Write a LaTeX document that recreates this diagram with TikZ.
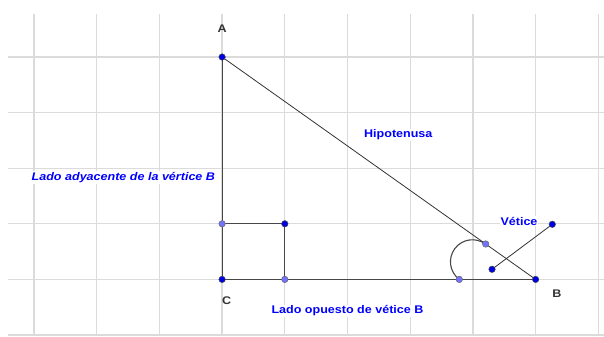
\documentclass[tikz,border=0pt]{standalone}
\usepackage{fontspec}
\setsansfont{Liberation Sans}[FakeStretch=1.13]

\begin{document}
\begin{tikzpicture}[
  x=62.7pt, y=55.6pt,
  font=\sffamily\bfseries\fontsize{11.1}{13}\selectfont,
  gridline/.style={gray!28, line width=1.3pt},
  side/.style={black!72, line width=1.1pt},
  hyp/.style={black!80, line width=0.8pt},
  pdark/.style={circle, draw=black!70, fill=blue!90!black, inner sep=0pt,
                minimum size=6.5pt, line width=0.5pt},
  plight/.style={circle, draw=black!60, fill=blue!55, inner sep=0pt,
                 minimum size=6.5pt, line width=0.5pt},
  vlab/.style={text=black!80, inner sep=1pt},
  tlab/.style={text=blue, fill=white, inner sep=1pt}
]
\useasboundingbox (-0.5423,-0.018) rectangle (9.0909,6.0252);
\foreach \k in {0,...,9}
  \draw[gridline] (\k,-0.018) -- (\k,5.773);
\foreach \j in {0,...,5}
  \draw[gridline] (-0.415,\j) -- (9.0909,\j);

\coordinate (C)  at (3,1);
\coordinate (A)  at (3,5);
\coordinate (B)  at (8,1);
\coordinate (S1) at (3,2);
\coordinate (S2) at (4,2);
\coordinate (S3) at (4,1);
\coordinate (P)  at (7.204,1.637);
\coordinate (Q)  at (6.783,1);
\coordinate (V1) at (7.305,1.182);
\coordinate (V2) at (8.266,1.991);

\node[vlab] (labA) at (3,5.504)     {A};
\node[vlab] (labC) at (3.073,0.617) {C};
\node[vlab] (labB) at (8.341,0.75)  {B};
\node[tlab] (hipo) at (5.81,3.597)  {Hipotenusa};
\node[tlab, font=\sffamily\bfseries\itshape\fontsize{11.1}{13}\selectfont]
  (adya) at (1.425,2.836) {Lado adyacente de la vértice B};
\node[tlab] (opue) at (5.0,0.432)   {Lado opuesto de vétice B};
\node[tlab] (veti) at (7.735,2.045) {Vétice};

\draw[side] (C) -- (B);
\draw[side] (C) -- (A);
\draw[hyp]  (A) -- (B);
\draw[side] (S1) -- (S2) -- (S3);
\draw[side] (Q) arc[start angle=233.3, end angle=53.3, radius=22pt];
\draw[hyp]  (V1) -- (V2);

\node[pdark]  (ptA)  at (A)  {};
\node[pdark]  (ptB)  at (B)  {};
\node[pdark]  (ptC)  at (C)  {};
\node[plight] (ptS1) at (S1) {};
\node[pdark]  (ptS2) at (S2) {};
\node[plight] (ptS3) at (S3) {};
\node[plight] (ptP)  at (P)  {};
\node[plight] (ptQ)  at (Q)  {};
\node[pdark]  (ptV1) at (V1) {};
\node[pdark]  (ptV2) at (V2) {};
\end{tikzpicture}
\end{document}
